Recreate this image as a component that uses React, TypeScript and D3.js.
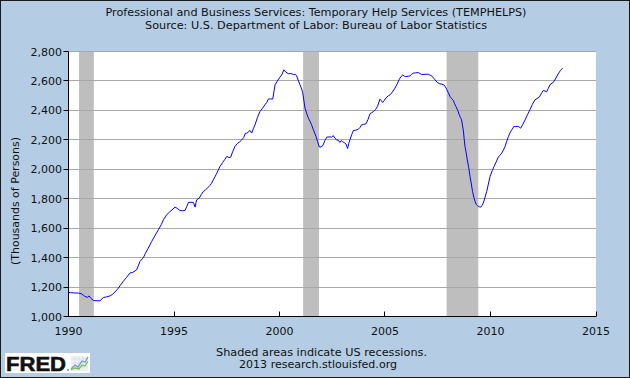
import React from "react";
import * as d3 from "d3";

const W = 630;
const H = 378;

const titleLines = [
  "Professional and Business Services: Temporary Help Services (TEMPHELPS)",
  "Source: U.S. Department of Labor: Bureau of Labor Statistics",
];
const yAxisLabel = "(Thousands of Persons)";
const footerLines = ["Shaded areas indicate US recessions.", "2013 research.stlouisfed.org"];

const xTicks = [1990, 1995, 2000, 2005, 2010, 2015];
const yTicks = [1000, 1200, 1400, 1600, 1800, 2000, 2200, 2400, 2600, 2800];

const recessionStarts = [1990.5, 2001.12, 2007.92];
const recessionEnds = [1991.2, 2001.87, 2009.42];

const years = [
  1990.0, 1990.1, 1990.25, 1990.47, 1990.6, 1990.7, 1990.78, 1990.9, 1990.97, 1991.05,
  1991.18, 1991.3, 1991.49, 1991.58, 1991.65, 1991.8, 1991.97, 1992.1, 1992.2, 1992.32,
  1992.44, 1992.6, 1992.75, 1992.91, 1993.05, 1993.23, 1993.39, 1993.55, 1993.65, 1993.78,
  1993.94, 1994.1, 1994.26, 1994.4, 1994.5, 1994.65, 1994.81, 1994.95, 1995.05, 1995.15,
  1995.28, 1995.4, 1995.52, 1995.6, 1995.68, 1995.8, 1995.92, 1996.0, 1996.07, 1996.2,
  1996.3, 1996.39, 1996.5, 1996.6, 1996.7, 1996.78, 1996.86, 1997.0, 1997.1, 1997.18,
  1997.3, 1997.4, 1997.5, 1997.6, 1997.69, 1997.78, 1997.89, 1998.0, 1998.1, 1998.21,
  1998.3, 1998.37, 1998.5, 1998.6, 1998.68, 1998.76, 1998.84, 1998.95, 1999.07, 1999.2,
  1999.31, 1999.4, 1999.47, 1999.58, 1999.68, 1999.74, 1999.79, 1999.9, 2000.02, 2000.1,
  2000.21, 2000.3, 2000.42, 2000.55, 2000.66, 2000.75, 2000.81, 2000.9, 2000.97, 2001.05,
  2001.1, 2001.21, 2001.3, 2001.37, 2001.45, 2001.52, 2001.6, 2001.73, 2001.8, 2001.89,
  2001.97, 2002.05, 2002.15, 2002.24, 2002.35, 2002.47, 2002.55, 2002.63, 2002.71, 2002.8,
  2002.86, 2002.93, 2002.99, 2003.08, 2003.15, 2003.23, 2003.28, 2003.34, 2003.42, 2003.5,
  2003.6, 2003.74, 2003.82, 2003.89, 2003.98, 2004.1, 2004.2, 2004.29, 2004.37, 2004.45,
  2004.55, 2004.64, 2004.76, 2004.83, 2004.89, 2004.98, 2005.08, 2005.17, 2005.24, 2005.35,
  2005.47, 2005.58, 2005.68, 2005.76, 2005.84, 2005.92, 2005.99, 2006.1, 2006.18, 2006.26,
  2006.34, 2006.45, 2006.58, 2006.66, 2006.74, 2006.9, 2007.05, 2007.13, 2007.21, 2007.3,
  2007.37, 2007.48, 2007.6, 2007.7, 2007.79, 2007.86, 2007.92, 2008.0, 2008.08, 2008.16,
  2008.24, 2008.3, 2008.36, 2008.45, 2008.52, 2008.58, 2008.63, 2008.67, 2008.71, 2008.75,
  2008.79, 2008.85, 2008.9, 2008.97, 2009.03, 2009.09, 2009.15, 2009.21, 2009.27, 2009.33,
  2009.39, 2009.47, 2009.54, 2009.6, 2009.66, 2009.74, 2009.82, 2009.9, 2009.98, 2010.08,
  2010.17, 2010.27, 2010.37, 2010.45, 2010.53, 2010.61, 2010.69, 2010.77, 2010.85, 2010.95,
  2011.02, 2011.11, 2011.2, 2011.32, 2011.43, 2011.53, 2011.64, 2011.75, 2011.87, 2011.98,
  2012.11, 2012.2, 2012.31, 2012.4, 2012.5, 2012.58, 2012.66, 2012.74, 2012.82, 2012.92,
  2013.01, 2013.1, 2013.21, 2013.31, 2013.42,
];

const values = [
  1163, 1162, 1160, 1159, 1155, 1145, 1136, 1130, 1140, 1125,
  1109, 1107, 1107, 1118, 1129, 1133, 1140, 1152, 1166, 1185,
  1208, 1240, 1265, 1295, 1300, 1317, 1374, 1400, 1430, 1464,
  1509, 1550, 1589, 1625, 1657, 1690, 1713, 1730, 1743, 1735,
  1720, 1718, 1720, 1745, 1774, 1776, 1774, 1743, 1792, 1805,
  1830, 1849, 1860, 1875, 1890, 1905, 1928, 1965, 1995, 2019,
  2045, 2065, 2087, 2080, 2082, 2120, 2155, 2175, 2185, 2200,
  2215, 2241, 2250, 2264, 2246, 2275, 2302, 2350, 2392, 2415,
  2438, 2455, 2477, 2478, 2477, 2530, 2574, 2600, 2626, 2640,
  2676, 2660, 2649, 2650, 2644, 2645, 2635, 2600, 2574, 2545,
  2520, 2415, 2375, 2347, 2325, 2302, 2270, 2223, 2190, 2151,
  2152, 2160, 2195, 2218, 2220, 2218, 2229, 2210, 2200, 2195,
  2182, 2195, 2188, 2180, 2172, 2141, 2175, 2200, 2235, 2263,
  2265, 2272, 2285, 2302, 2305, 2309, 2340, 2377, 2385, 2392,
  2405, 2426, 2476, 2465, 2454, 2470, 2490, 2500, 2506, 2525,
  2551, 2580, 2612, 2630, 2640, 2632, 2630, 2632, 2634, 2645,
  2653, 2655, 2657, 2650, 2644, 2645, 2646, 2640, 2635, 2620,
  2608, 2590, 2580, 2578, 2574, 2560, 2544, 2520, 2494, 2480,
  2467, 2445, 2426, 2400, 2370, 2350, 2336, 2300, 2268, 2210,
  2155, 2110, 2064, 2010, 1951, 1900, 1849, 1810, 1781, 1760,
  1752, 1745, 1743, 1755, 1770, 1810, 1849, 1900, 1951, 1990,
  2019, 2050, 2083, 2095, 2109, 2130, 2155, 2190, 2223, 2255,
  2270, 2291, 2290, 2291, 2279, 2305, 2336, 2370, 2404, 2440,
  2472, 2480, 2490, 2512, 2535, 2532, 2526, 2550, 2574, 2585,
  2596, 2620, 2648, 2670, 2687,
];

const FONT = "'DejaVu Sans', Verdana, sans-serif";

export default function App() {
  const left = 68.5;
  const right = 596;
  const top = 51.5;
  const bottom = 316.5;

  const x = d3.scaleLinear().domain([1990, 2015]).range([left, right]);
  const y = d3.scaleLinear().domain([1000, 2800]).range([bottom, top]);

  const points = years.map((yr, i) => [yr, values[i]] as [number, number]);
  const line = d3
    .line<[number, number]>()
    .x((d) => x(d[0]))
    .y((d) => y(d[1]));

  const fmt = d3.format(",");
  const crisp = (v: number) => Math.round(v - 0.5) + 0.5;

  return (
    <svg
      width={W}
      height={H}
      viewBox={`0 0 ${W} ${H}`}
      style={{ position: "absolute", left: 0, top: 0, display: "block" }}
      fontFamily={FONT}
    >
      <rect x={0.5} y={0.5} width={W - 1} height={H - 1} fill="#B4CDE4" stroke="#1a1a1a" strokeWidth={1} />

      {/* titles */}
      <text x={316} y={15.5} textAnchor="middle" fontSize={11} fill="#111" textLength={421} lengthAdjust="spacingAndGlyphs">
        {titleLines[0]}
      </text>
      <text x={316} y={28.5} textAnchor="middle" fontSize={11} fill="#111" textLength={342} lengthAdjust="spacingAndGlyphs">
        {titleLines[1]}
      </text>

      {/* plot background */}
      <rect x={left} y={top} width={right - left} height={bottom - top} fill="#FFFFFF" />

      {/* recessions */}
      {recessionStarts.map((s, i) => (
        <rect
          key={"r" + i}
          x={x(s)}
          y={top}
          width={x(recessionEnds[i]) - x(s)}
          height={bottom - top}
          fill="#BEBEBE"
        />
      ))}

      {/* gridlines */}
      {yTicks
        .filter((t) => t !== 1000)
        .map((t) => (
          <line
            key={"g" + t}
            x1={left}
            x2={right}
            y1={crisp(y(t))}
            y2={crisp(y(t))}
            stroke="#A8A8A8"
            strokeWidth={1}
          />
        ))}

      {/* data line */}
      <path d={line(points) || ""} fill="none" stroke="#0000FF" strokeWidth={1} />

      {/* axes */}
      <line x1={left} x2={left} y1={top} y2={bottom + 0.5} stroke="#000" strokeWidth={1} />
      <line x1={left} x2={right} y1={bottom} y2={bottom} stroke="#000" strokeWidth={1} />

      {yTicks.map((t) => (
        <g key={"yt" + t}>
          <line x1={left - 5} x2={left} y1={crisp(y(t))} y2={crisp(y(t))} stroke="#000" strokeWidth={1} />
          <text x={62} y={y(t) + 4} textAnchor="end" fontSize={11} fill="#111">
            {fmt(t)}
          </text>
        </g>
      ))}

      {xTicks.map((t) => (
        <g key={"xt" + t}>
          <line x1={crisp(x(t))} x2={crisp(x(t))} y1={bottom} y2={bottom - 5} stroke="#000" strokeWidth={1} />
          <text x={x(t)} y={334.5} textAnchor="middle" fontSize={11} fill="#111">
            {t}
          </text>
        </g>
      ))}

      {/* y axis label */}
      <text
        transform="translate(18.5,201) rotate(-90)"
        textAnchor="middle"
        fontSize={11}
        fill="#111"
        textLength={128}
        lengthAdjust="spacingAndGlyphs"
      >
        {yAxisLabel}
      </text>

      {/* footer */}
      <text x={321.5} y={355.5} textAnchor="middle" fontSize={11} fill="#111" textLength={211} lengthAdjust="spacingAndGlyphs">
        {footerLines[0]}
      </text>
      <text x={318} y={368} textAnchor="middle" fontSize={11} fill="#111" textLength={158} lengthAdjust="spacingAndGlyphs">
        {footerLines[1]}
      </text>

      {/* FRED logo */}
      <g>
        <rect x={5} y={353} width={85} height={20} fill="#FFFFFF" />
        <text
          x={6}
          y={371}
          fontFamily="'Liberation Sans', Arial, sans-serif"
          fontWeight="bold"
          fontSize={21}
          fill="#111"
          stroke="#111"
          strokeWidth={0.6}
          textLength={60}
          lengthAdjust="spacingAndGlyphs"
        >
          FRED
        </text>
        <circle cx={68} cy={370} r={0.8} fill="#333" />
        <rect x={71} y={356} width={17} height={15} fill="#EEF2F5" />
        {[359, 363, 367].map((gy) => (
          <line key={"lg" + gy} x1={71} x2={88} y1={gy} y2={gy} stroke="#D0D8DE" strokeWidth={0.6} />
        ))}
        {[75, 79, 83].map((gx) => (
          <line key={"lv" + gx} x1={gx} x2={gx} y1={356} y2={371} stroke="#D0D8DE" strokeWidth={0.6} />
        ))}
        <polyline points="71,369 75,365 78,367 82,361 85,362 88,357" fill="none" stroke="#6A9BD0" strokeWidth={1.3} />
        <polyline points="71,370 75,368 79,369 82,365 85,366 88,361" fill="none" stroke="#7DBB5A" strokeWidth={1.3} />
      </g>
    </svg>
  );
}
